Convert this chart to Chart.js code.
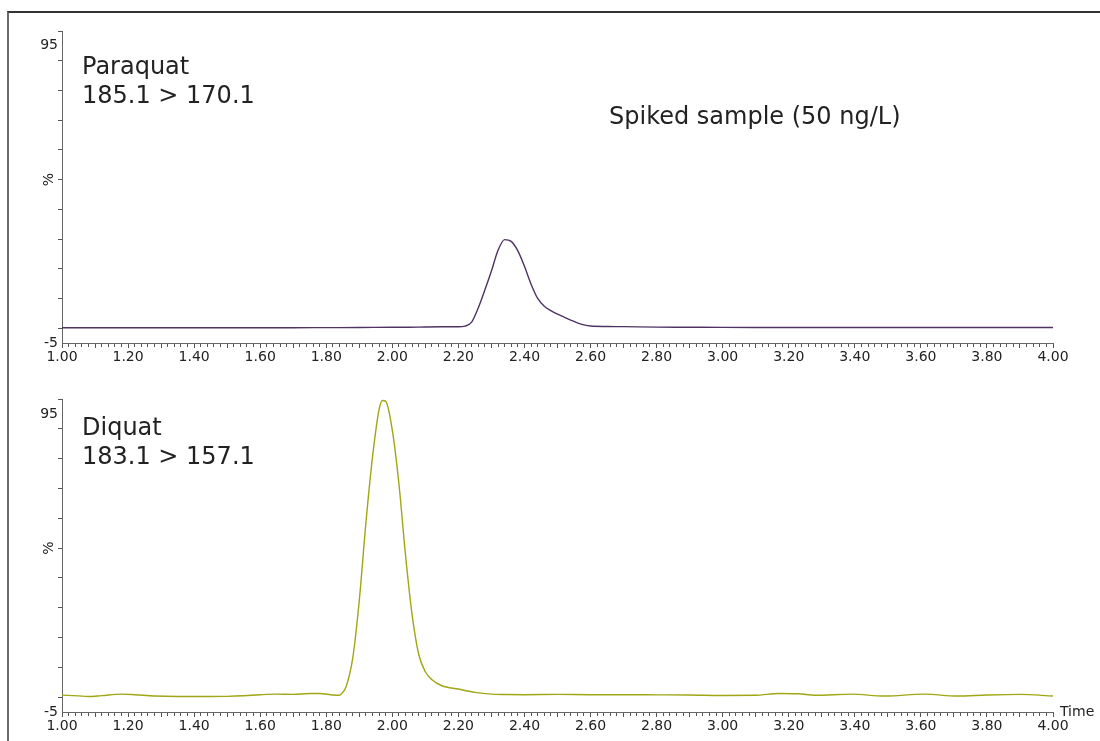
<!DOCTYPE html>
<html><head><meta charset="utf-8">
<script src="https://cdn.jsdelivr.net/npm/chart.js@4.4.0/dist/chart.umd.min.js"></script>
<style>
html,body{margin:0;padding:0;background:#fff;}
#wrap{position:relative;width:1100px;height:741px;overflow:hidden;background:#fff;}
#frame{position:absolute;left:7px;top:11px;width:1100px;height:740px;border-top:2px solid #333;border-left:2px solid #6a6a6a;box-sizing:border-box;}
.c{position:absolute;left:0;}
</style></head><body>
<div id="wrap"><div id="frame"></div>
<canvas id="c1" class="c" width="1100" height="370" style="top:0px"></canvas>
<canvas id="c2" class="c" width="1100" height="371" style="top:370px"></canvas>
</div>
<script>
// ---- data ----
const paraquatTime = [1.00,1.10,1.20,1.30,1.40,1.50,1.60,1.70,1.80,1.90,2.00,2.05,2.10,2.15,2.20,2.22,2.24,2.26,2.28,2.30,2.32,2.34,2.36,2.38,2.40,2.42,2.44,2.46,2.48,2.50,2.52,2.54,2.56,2.58,2.60,2.65,2.70,2.80,2.90,3.00,3.10,3.20,3.30,3.40,3.50,3.60,3.70,3.80,3.90,4.00];
const paraquatIntensity = [0.15,0.12,0.12,0.15,0.15,0.15,0.15,0.15,0.18,0.2,0.3,0.3,0.4,0.45,0.45,0.7,2.0,6.8,12.8,19.2,26.2,29.8,29.2,26.0,20.8,14.8,10.0,7.4,5.9,4.7,3.7,2.7,1.8,1.1,0.7,0.55,0.5,0.35,0.3,0.25,0.22,0.2,0.2,0.22,0.2,0.2,0.22,0.2,0.2,0.2];

const diquatTime = [1.00,1.05,1.08,1.12,1.18,1.22,1.28,1.35,1.45,1.50,1.55,1.60,1.65,1.70,1.75,1.78,1.82,1.84,1.85,1.86,1.88,1.90,1.92,1.94,1.96,1.97,1.98,2.00,2.02,2.04,2.06,2.08,2.10,2.12,2.15,2.20,2.25,2.30,2.35,2.40,2.50,2.60,2.70,2.80,2.90,3.00,3.10,3.17,3.23,3.28,3.39,3.49,3.61,3.71,3.80,3.90,4.00];
const diquatIntensity = [0.67,0.4,0.2,0.5,1.0,0.8,0.35,0.2,0.2,0.25,0.45,0.8,1.0,0.9,1.2,1.2,0.7,0.6,1.6,3.5,13.0,32.5,58.5,80.5,96.5,99.5,99.2,89.5,71.5,47.5,27.5,14.3,8.5,5.8,3.8,2.7,1.6,1.0,0.85,0.8,0.9,0.8,0.8,0.75,0.7,0.55,0.6,1.2,1.1,0.6,1.0,0.35,1.0,0.35,0.7,0.9,0.35];

const xTickLabels = ['1.00','1.20','1.40','1.60','1.80','2.00','2.20','2.40','2.60','2.80','3.00','3.20','3.40','3.60','3.80','4.00'];
const yTickLabels = ['-5','95'];
const yMajorTicks = [0,10,20,30,40,50,60,70,80,90,100];
const paraquatTitle = ['Paraquat','185.1 > 170.1'];
const diquatTitle = ['Diquat','183.1 > 157.1'];
const sampleNote = 'Spiked sample (50 ng/L)';

const FONT = '"DejaVu Sans", Verdana, sans-serif';

const annotPlugin = {
  id: 'annot',
  afterDraw(chart, args, opts) {
    const ctx = chart.ctx, ca = chart.chartArea;
    ctx.save();
    ctx.fillStyle = '#222';
    ctx.font = '24px ' + FONT;
    ctx.textBaseline = 'alphabetic';
    ctx.textAlign = 'left';
    opts.title.forEach((t, i) => ctx.fillText(t, ca.left + 20, ca.top + opts.titleOffset + i * opts.lineGap));
    if (opts.note) ctx.fillText(opts.note, ca.left + 547, ca.top + 93);
    // rotated "%" label
    const y = chart.scales.y.getPixelForValue(50);
    ctx.font = '14px ' + FONT;
    ctx.translate(ca.left - 13, y);
    ctx.rotate(-Math.PI / 2);
    ctx.textAlign = 'center';
    ctx.textBaseline = 'middle';
    ctx.fillText('%', 0, 0);
    ctx.restore();
    if (opts.timeLabel) {
      ctx.save();
      ctx.fillStyle = '#222';
      ctx.font = '14px ' + FONT;
      ctx.textAlign = 'left';
      ctx.textBaseline = 'middle';
      ctx.fillText(opts.timeLabel, ca.right + 7, ca.bottom);
      ctx.restore();
    }
  }
};

function makeChart(id, times, vals, color, padTop, xHeight, annot) {
  return new Chart(document.getElementById(id), {
    type: 'line',
    data: { datasets: [{
      data: times.map((t, i) => ({ x: t, y: vals[i] })),
      borderColor: color, borderWidth: 1.4, pointRadius: 0,
      cubicInterpolationMode: 'monotone', fill: false
    }]},
    options: {
      responsive: false, animation: false,
      layout: { padding: { top: padTop, right: 47, left: 0, bottom: 0 } },
      plugins: { legend: { display: false }, tooltip: { enabled: false }, annot: annot },
      scales: {
        x: {
          type: 'linear', min: 1, max: 4, position: 'bottom',
          afterBuildTicks: (s) => {
            const arr = [];
            for (let i = 0; i <= 150; i++) arr.push({ value: Math.round((1 + i * 0.02) * 100) / 100 });
            s.ticks = arr;
          },
          afterFit: (s) => { s.height = xHeight; },
          ticks: {
            autoSkip: false, maxRotation: 0, minRotation: 0, padding: 1,
            color: '#222', font: { family: FONT, size: 14 },
            callback: (v) => { const s = Number(v).toFixed(2); return xTickLabels.includes(s) ? s : ''; }
          },
          grid: {
            drawOnChartArea: false, drawTicks: true, tickLength: 5, tickWidth: 1, tickColor: '#555',
            tickBorderDash: (c) => (c.tick && Math.round(c.tick.value * 100) % 10 === 0) ? [] : [3, 20]
          },
          border: { display: true, color: '#666', width: 1 }
        },
        y: {
          type: 'linear', min: -5, max: 100,
          afterBuildTicks: (s) => {
            const vals = yMajorTicks.concat(yTickLabels.map(Number)).sort((a, b) => a - b);
            s.ticks = vals.map(v => ({ value: v }));
          },
          afterFit: (s) => { s.width = 62; },
          ticks: {
            autoSkip: false, padding: 0, color: '#222', font: { family: FONT, size: 14 },
            callback: (v) => yTickLabels.includes(String(v)) ? String(v) : ''
          },
          grid: {
            drawOnChartArea: false, drawTicks: true, tickLength: 4, tickWidth: 1,
            tickColor: (c) => (c.tick && yTickLabels.includes(String(c.tick.value))) ? 'rgba(0,0,0,0)' : '#555'
          },
          border: { display: true, color: '#666', width: 1 }
        }
      }
    },
    plugins: [annotPlugin]
  });
}

makeChart('c1', paraquatTime, paraquatIntensity, '#4f3363', 31, 27, { title: paraquatTitle, note: sampleNote, titleOffset: 43, lineGap: 29 });
makeChart('c2', diquatTime, diquatIntensity, '#a0a614', 29, 29, { title: diquatTitle, timeLabel: 'Time', titleOffset: 36, lineGap: 29 });
</script>
</body></html>
